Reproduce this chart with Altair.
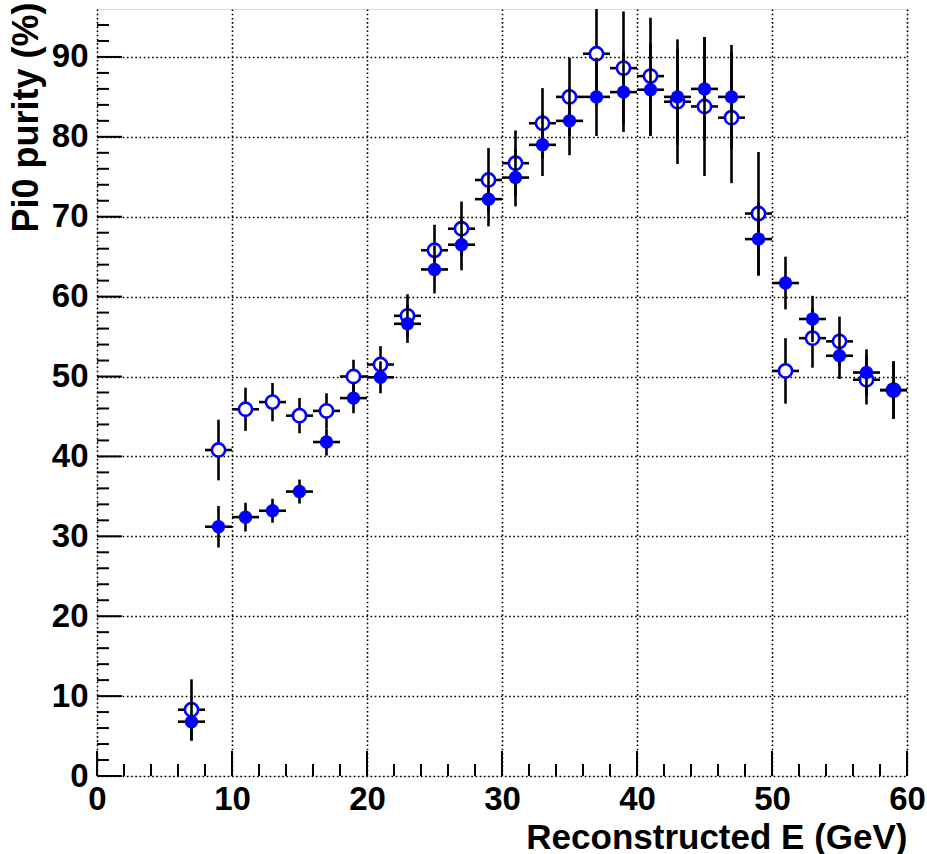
import altair as alt
import pandas as pd

# ---- data ----
energy = [7, 9, 11, 13, 15, 17, 19, 21, 23, 25, 27, 29, 31, 33, 35, 37, 39, 41,
          43, 45, 47, 49, 51, 53, 55, 57, 59]
filled_purity = [6.8, 31.2, 32.4, 33.2, 35.6, 41.8, 47.3, 49.9, 56.6, 63.4, 66.5, 72.2,
                 74.9, 79.0, 82.0, 85.0, 85.6, 85.9, 85.0, 86.0, 85.0, 67.2, 61.7, 57.2,
                 52.6, 50.5, 48.3]
filled_err = [2.4, 2.6, 1.8, 1.5, 1.5, 1.7, 1.9, 2.0, 2.4, 3.0, 3.2, 3.4, 3.6, 3.9, 4.3,
              4.9, 5.0, 5.8, 6.0, 6.5, 6.5, 4.6, 3.3, 2.9, 2.9, 2.9, 3.6]
open_purity = [8.3, 40.8, 45.9, 46.8, 45.1, 45.7, 50.0, 51.5, 57.6, 65.8, 68.5, 74.6,
               76.7, 81.7, 85.0, 90.4, 88.6, 87.6, 84.4, 83.8, 82.4, 70.4, 50.7, 54.8,
               54.4, 49.6, 48.3]
open_err = [3.8, 3.8, 2.7, 2.4, 2.2, 2.2, 2.1, 2.3, 2.7, 3.2, 3.4, 4.0, 4.1, 4.4, 4.9,
            6.5, 7.1, 7.3, 7.8, 8.7, 8.2, 7.7, 4.1, 3.7, 3.1, 3.1, 3.6]
bin_half_width = 1.0

x_major = [0, 10, 20, 30, 40, 50, 60]
x_minor = [2, 4, 6, 8, 12, 14, 16, 18, 22, 24, 26, 28, 32, 34, 36, 38, 42, 44, 46, 48,
           52, 54, 56, 58]
y_major = [0, 10, 20, 30, 40, 50, 60, 70, 80, 90]
y_minor = [2, 4, 6, 8, 12, 14, 16, 18, 22, 24, 26, 28, 32, 34, 36, 38, 42, 44, 46, 48,
           52, 54, 56, 58, 62, 64, 66, 68, 72, 74, 76, 78, 82, 84, 86, 88, 92, 94]

x_title = "Reconstructed E (GeV)"
y_title = "Pi0 purity (%)"

# ---- layout ----
W, H = 810, 767
FONT = "Liberation Sans"

def make_df(vals, errs, name):
    return pd.DataFrame({
        "E": energy,
        "E_lo": [e - bin_half_width for e in energy],
        "E_hi": [e + bin_half_width for e in energy],
        "P": vals,
        "P_lo": [v - e for v, e in zip(vals, errs)],
        "P_hi": [v + e for v, e in zip(vals, errs)],
        "series": name,
    })

df_open = make_df(open_purity, open_err, "open")
df_filled = make_df(filled_purity, filled_err, "filled")

xscale = alt.Scale(domain=[0, 60], nice=False, zero=False)
yscale = alt.Scale(domain=[0, 96], nice=False, zero=False)

xaxis = alt.Axis(values=x_major, format="d", ticks=False, domain=False, grid=True,
                 gridColor="black", gridDash=[1.6, 2.6], gridWidth=1.6, gridOpacity=1,
                 labelFont=FONT, labelFontWeight="bold", labelFontSize=33,
                 labelColor="black", labelPadding=7, labelFlush=False,
                 titleFont=FONT, titleFontWeight="bold", titleFontSize=35,
                 titleColor="black", titleAlign="right", titleAnchor="end",
                 titleBaseline="alphabetic", titleX=W, titleY=72)
yaxis = alt.Axis(values=y_major, format="d", ticks=False, domain=False, grid=True,
                 gridColor="black", gridDash=[1.6, 2.6], gridWidth=1.6, gridOpacity=1,
                 labelFont=FONT, labelFontWeight="bold", labelFontSize=33,
                 labelColor="black", labelPadding=9, labelFlush=False,
                 titleFont=FONT, titleFontWeight="bold", titleFontSize=36,
                 titleColor="black", titleAngle=270, titleAlign="right",
                 titleAnchor="end", titleBaseline="alphabetic",
                 titleX=-60, titleY=-7)

def X(field):
    return alt.X(field, type="quantitative", scale=xscale, axis=xaxis, title=x_title)

def Y(field):
    return alt.Y(field, type="quantitative", scale=yscale, axis=yaxis, title=y_title)

# inward ticks on the bottom and left axes
xt_major = alt.Chart(pd.DataFrame({"t": x_major})).mark_rule(color="black", strokeWidth=2).encode(
    x=X("t"), y=alt.value(H), y2=alt.value(H - 25))
xt_minor = alt.Chart(pd.DataFrame({"t": x_minor})).mark_rule(color="black", strokeWidth=2).encode(
    x=X("t"), y=alt.value(H), y2=alt.value(H - 12))
yt_major = alt.Chart(pd.DataFrame({"t": y_major})).mark_rule(color="black", strokeWidth=2).encode(
    y=Y("t"), x=alt.value(0), x2=alt.value(25))
yt_minor = alt.Chart(pd.DataFrame({"t": y_minor})).mark_rule(color="black", strokeWidth=2).encode(
    y=Y("t"), x=alt.value(0), x2=alt.value(12))

def errbars(df):
    h = alt.Chart(df).mark_rule(color="black", strokeWidth=2.6, clip=True).encode(
        x=X("E_lo"), x2="E_hi", y=Y("P"))
    v = alt.Chart(df).mark_rule(color="black", strokeWidth=2.6, clip=True).encode(
        x=X("E"), y=Y("P_lo"), y2="P_hi")
    return h + v

open_pts = alt.Chart(df_open).mark_point(shape="circle", filled=True, fill="white",
                                         stroke="#0000ff", strokeWidth=2.6, size=175,
                                         opacity=1).encode(x=X("E"), y=Y("P"))
filled_pts = alt.Chart(df_filled).mark_circle(color="#0000ff", size=180, opacity=1).encode(
    x=X("E"), y=Y("P"))

chart = alt.layer(
    xt_major, xt_minor, yt_major, yt_minor,
    errbars(df_open), open_pts,
    errbars(df_filled), filled_pts,
).properties(
    width=W, height=H,
    autosize=alt.AutoSizeParams(type="none"),
    padding={"left": 97, "top": 9, "right": 20, "bottom": 78},
).configure_view(
    stroke="black", strokeWidth=2.4
).configure(background="white")

chart.save("out.html", embed_options={"renderer": "svg", "actions": False})
